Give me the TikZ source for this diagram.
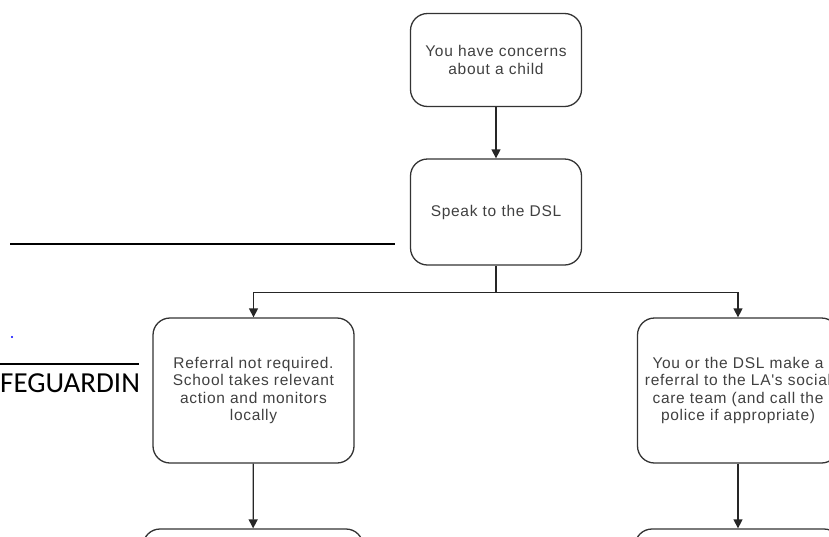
\documentclass[tikz,border=0pt]{standalone}
\usepackage{fontspec}
\setmainfont{Liberation Sans}
\newfontfamily\headfont{Carlito}
\newfontfamily\boxfont[LetterSpace=4.5]{Liberation Sans}
\usepackage{tikz}
\usetikzlibrary{arrows.meta, positioning, calc}

\tikzset{
  flowbox/.style={draw=black!80, line width=1.3pt, rounded corners=17pt, align=center,
    text=black!75, font=\boxfont\fontsize{15.5}{17.5}\selectfont, inner sep=4pt},
  flowarrow/.style={draw=black!85, line width=1.3pt, -{Triangle[width=9pt,length=9pt]}},
  flowline/.style={draw=black!85, line width=1.3pt}
}

\begin{document}
\begin{tikzpicture}[x=1pt, y=-1pt]
        \useasboundingbox (0,0) rectangle (829,536);
        \clip (0,0) rectangle (829,536);

        % Left page leftovers
        \draw[line width=1.5pt] (10,244) -- (395,244);
        \draw[line width=1.5pt] (0,364) -- (139,364);
        \fill[blue] (12,337) circle (1.2pt);
        \node[anchor=west, inner sep=0pt, font=\headfont\fontsize{29}{31}\selectfont] (title) at (0,383) {FEGUARDIN};

        % Boxes
        \node[flowbox, minimum width=171pt, minimum height=93pt, text width=160pt] (concern) at (496,60) {You have concerns\\about a child};
        \node[flowbox, minimum width=171pt, minimum height=106pt, text width=160pt] (dsl) at (496,212) {Speak to the DSL};
        \node[flowbox, minimum width=201pt, minimum height=145pt, text width=192pt] (noref) at (253.5,390.5) {Referral not required.\\School takes relevant\\action and monitors\\locally};
        \node[flowbox, inner xsep=0.5pt, minimum width=201pt, minimum height=145pt, text width=200pt] (referral) at (738,390.5) {You or the DSL make a\\referral to the LA's social\\care team (and call the\\police if appropriate)};
        \node[flowbox, minimum width=220pt, minimum height=100pt] (nextleft) at (253,579) {};
        \node[flowbox, minimum width=206pt, minimum height=100pt] (nextright) at (738,579) {};

        % Arrows
        \draw[flowarrow] (concern) -- (dsl);
        \draw[flowline] (dsl.south) -- ++(0,27) coordinate (fork);
        \draw[flowarrow] (fork) -| (noref.north);
        \draw[flowarrow] (fork) -| (referral.north);
        \draw[flowarrow] (noref) -- (nextleft);
        \draw[flowarrow] (referral) -- (nextright);
\end{tikzpicture}
\end{document}
